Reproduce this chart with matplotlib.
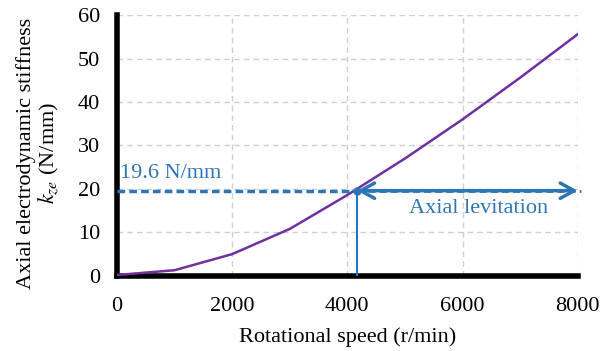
import matplotlib
matplotlib.use("Agg")
import matplotlib.pyplot as plt

# data
speed = [0, 1000, 2000, 3000, 4000, 5000, 6000, 7000, 8000]
stiffness = [0.2, 1.3, 5.0, 10.8, 18.6, 27.0, 36.0, 45.6, 55.6]
k_levitation = 19.6
speed_levitation = 4170

plt.rcParams['font.family'] = ['Liberation Serif', 'DejaVu Serif']
plt.rcParams['mathtext.fontset'] = 'stix'

blue = '#2E75B6'
purple = '#7030A0'
fs = 16

fig = plt.figure(figsize=(6.12, 3.51), dpi=100)
ax = fig.add_axes([0.191, 0.214, 0.753, 0.743])

ax.plot(speed, stiffness, color=purple, lw=1.8, zorder=3)

# threshold line and marker
ax.plot([0, speed_levitation], [k_levitation, k_levitation], color=blue,
        lw=2.5, ls=(0, (2.2, 1.2)), zorder=4)
ax.plot([speed_levitation, 8050], [k_levitation, k_levitation], color=blue,
        lw=2, ls=(0, (2.5, 1.5)), zorder=2, clip_on=False)
ax.plot([speed_levitation, speed_levitation], [0, k_levitation], color='#1f77c4',
        lw=1.5, zorder=4)
ax.plot([speed_levitation], [k_levitation], 'o', color=blue, ms=5, zorder=5)
ax.annotate('', xy=(8000, k_levitation), xytext=(speed_levitation, k_levitation),
            arrowprops=dict(arrowstyle='<->,head_length=1.0,head_width=0.55',
                            color=blue, lw=2.5, shrinkA=0, shrinkB=0),
            zorder=5)

ax.text(60, k_levitation + 1.8, '19.6 N/mm', color=blue, fontsize=fs,
        ha='left', va='bottom')
ax.text(6280, k_levitation - 1.8, 'Axial levitation', color=blue, fontsize=fs,
        ha='center', va='top')

ax.set_xlim(0, 8000)
ax.set_ylim(0, 60)
ax.set_xticks([0, 2000, 4000, 6000, 8000])
ax.set_yticks(range(0, 61, 10))
ax.tick_params(length=0, labelsize=fs)
ax.tick_params(axis='y', pad=12)
ax.tick_params(axis='x', pad=15)

ax.grid(True, color='#d0d0d0', ls=(0, (4, 3)), lw=1)
ax.set_axisbelow(True)
for side in ['top', 'right']:
    ax.spines[side].set_visible(False)
for side in ['left', 'bottom']:
    ax.spines[side].set_linewidth(4)
    ax.spines[side].set_color('black')

ax.set_xlabel('Rotational speed (r/min)', fontsize=fs, labelpad=8)
ax.set_ylabel('Axial electrodynamic stiffness\n$k_{ze}$ (N/mm)', fontsize=fs,
              linespacing=1.0)
ax.yaxis.set_label_coords(-0.122, 0.47)

fig.savefig('out.png', dpi=100)
